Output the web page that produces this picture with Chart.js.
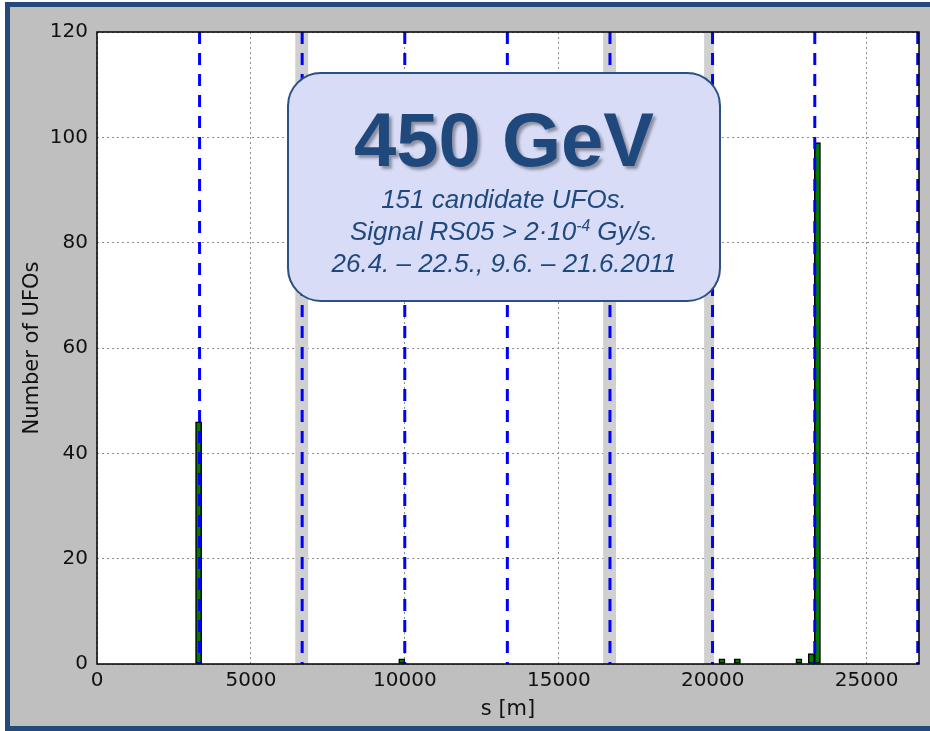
<!DOCTYPE html>
<html>
<head>
<meta charset="utf-8">
<title>UFOs at 450 GeV</title>
<script src="https://cdn.jsdelivr.net/npm/chart.js@4.4.1/dist/chart.umd.min.js"></script>
<style>
    html, body { margin: 0; padding: 0; background: #fff; }
    #wrap { position: relative; width: 930px; height: 731px; overflow: hidden; }
    #frame {
        position: absolute; left: 5px; top: 2px; width: 960px; height: 729px;
        box-sizing: border-box; background: #bfbfbf; border: 5px solid #24497b;
    }
    #chart { position: absolute; left: 0; top: 0; }
    #note {
        position: absolute; left: 287px; top: 72px; width: 434px; height: 230px;
        box-sizing: border-box; background: #d8dcf7; border: 2px solid #2b5081;
        border-radius: 34px; color: #1f497d; font-family: "Liberation Sans", Arial, sans-serif;
    }
    #note div { position: absolute; left: 0; right: 0; text-align: center; line-height: 1; white-space: nowrap; }
    #note .big { top: 28px; font-size: 76px; font-weight: bold; text-shadow: 3px 3px 3px rgba(0,0,0,0.35); }
    #note .small { font-size: 26px; font-style: italic; }
    #note sup { font-size: 60%; vertical-align: 0.55em; line-height: 0; }
</style>
</head>
<body>
<div id="wrap">
    <div id="frame"></div>
    <canvas id="chart" width="930" height="731"></canvas>
    <div id="note">
        <div class="big">450 GeV</div>
        <div class="small" style="top:112px">151 candidate UFOs.</div>
        <div class="small" style="top:144px">Signal RS05 &gt; 2·10<sup>-4</sup> Gy/s.</div>
        <div class="small" style="top:176px">26.4. – 22.5., 9.6. – 21.6.2011</div>
    </div>
</div>
<script>
// UFO counts per 200 m bin along the ring
const binCenters = [3300, 9900, 20300, 20800, 22800, 23200, 23400];
const ufoCounts = [46, 1, 1, 1, 1, 2, 99];

// interaction points (blue dashed) and shaded regions
const ipPositions = [3332, 6664, 9997, 13329, 16662, 19994, 23315, 26659];
const bandStart = [6440, 16440, 19720];
const bandEnd = [6860, 16860, 20040];

const xTicks = [0, 5000, 10000, 15000, 20000, 25000];
const yTicks = [0, 20, 40, 60, 80, 100, 120];

const axisFont = { family: 'DejaVu Sans', size: 20 };
const titleFont = { family: 'DejaVu Sans', size: 21 };

const plotBackground = {
    id: 'plotBackground',
    beforeDraw(chart) {
        const { ctx, chartArea: a } = chart;
        ctx.save();
        ctx.fillStyle = '#ffffff';
        ctx.fillRect(a.left, a.top, a.right - a.left, a.bottom - a.top);
        ctx.restore();
    }
};

const shadedBands = {
    id: 'shadedBands',
    beforeDatasetsDraw(chart) {
        const { ctx, chartArea: a, scales: { x } } = chart;
        ctx.save();
        ctx.fillStyle = '#d0d0d0';
        bandStart.forEach((s, i) => {
            const x0 = x.getPixelForValue(s);
            const x1 = x.getPixelForValue(bandEnd[i]);
            ctx.fillRect(x0, a.top, x1 - x0, a.bottom - a.top);
        });
        ctx.restore();
    }
};

const ipLines = {
    id: 'ipLines',
    afterDatasetsDraw(chart) {
        const { ctx, chartArea: a, scales: { x } } = chart;
        ctx.save();
        ctx.strokeStyle = '#0000ff';
        ctx.lineWidth = 3;
        ctx.setLineDash([12, 9]);
        ipPositions.forEach(s => {
            const px = x.getPixelForValue(s);
            ctx.beginPath();
            ctx.moveTo(px, a.top);
            ctx.lineTo(px, a.bottom);
            ctx.stroke();
        });
        ctx.restore();
    }
};

const plotFrame = {
    id: 'plotFrame',
    afterDraw(chart) {
        const { ctx, chartArea: a } = chart;
        ctx.save();
        ctx.strokeStyle = '#000';
        ctx.lineWidth = 1.5;
        ctx.strokeRect(a.left, a.top, a.right - a.left, a.bottom - a.top);
        ctx.restore();
    }
};

new Chart(document.getElementById('chart'), {
    type: 'bar',
    data: {
        datasets: [{
            data: binCenters.map((s, i) => ({ x: s, y: ufoCounts[i] })),
            backgroundColor: '#007a00',
            borderColor: '#000',
            borderWidth: 1.5,
            borderSkipped: false,
            barPercentage: 1,
            categoryPercentage: 1
        }]
    },
    options: {
        responsive: false,
        animation: false,
        devicePixelRatio: 1,
        layout: { padding: { left: 0, top: 32, right: 11, bottom: 0 } },
        plugins: { legend: { display: false }, tooltip: { enabled: false } },
        scales: {
            x: {
                type: 'linear',
                min: 0,
                max: 26700,
                offset: false,
                grid: { offset: false, color: '#8c8c8c', lineWidth: 1, drawTicks: false },
                border: { display: false, dash: [2, 3] },
                ticks: { color: '#111', font: axisFont, padding: 5, maxRotation: 0, callback: v => String(v) },
                afterBuildTicks(s) { s.ticks = xTicks.map(v => ({ value: v })); },
                afterFit(s) { s.height = 67; },
                title: { display: true, text: 's [m]', color: '#111', font: titleFont, padding: { top: 0, bottom: 9 } }
            },
            y: {
                min: 0,
                max: 120,
                grid: { color: '#8c8c8c', lineWidth: 1, drawTicks: false },
                border: { display: false, dash: [2, 3] },
                ticks: { color: '#111', font: axisFont, padding: 9, callback: v => String(v) },
                afterBuildTicks(s) { s.ticks = yTicks.map(v => ({ value: v })); },
                afterFit(s) { s.width = 97; },
                title: { display: true, text: 'Number of UFOs', color: '#111', font: titleFont, padding: { top: 20, bottom: 0 } }
            }
        }
    },
    plugins: [plotBackground, shadedBands, ipLines, plotFrame]
});
</script>
</body>
</html>
